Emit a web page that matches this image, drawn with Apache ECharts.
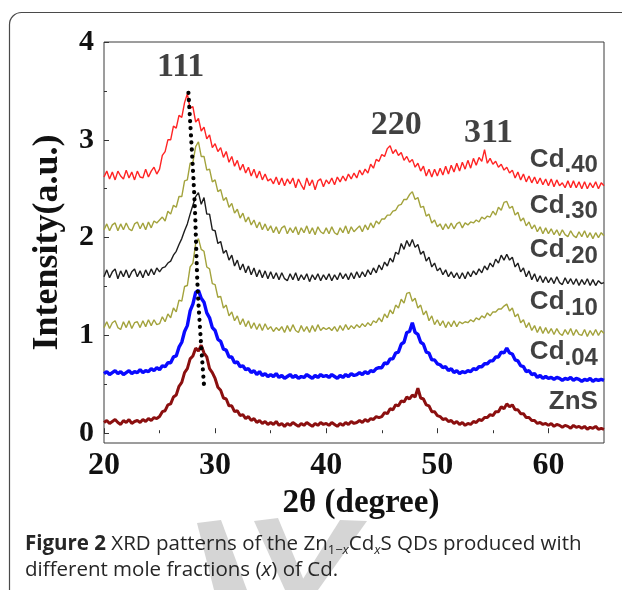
<!DOCTYPE html>
<html><head><meta charset="utf-8">
<script src="https://cdn.jsdelivr.net/npm/echarts/dist/echarts.min.js"></script>
<style>html,body{margin:0;padding:0;background:#fff}#c{width:622px;height:590px}</style>
</head><body><div id="c"></div>
<script>
// 2θ sampling: 20.00 .. 65.00 every 0.25 degree
const twoThetaStart = 20, twoThetaStep = 0.25;

const cd40 = [
2.62,2.68,2.60,2.67,2.59,2.68,2.63,2.60,2.69,2.61,2.67,2.59,2.68,2.62,2.61,2.70,2.62,2.68,2.72,2.65,
2.70,2.84,2.88,3.00,3.00,3.14,3.12,3.25,3.23,3.38,3.47,3.32,3.34,3.18,3.22,3.09,3.13,3.01,3.05,2.92,
2.96,2.88,2.92,2.82,2.88,2.77,2.83,2.73,2.79,2.69,2.75,2.66,2.72,2.63,2.70,2.61,2.68,2.59,2.65,2.58,
2.60,2.55,2.62,2.54,2.61,2.53,2.60,2.55,2.61,2.51,2.60,2.54,2.49,2.61,2.53,2.59,2.49,2.58,2.60,2.52,
2.59,2.55,2.61,2.54,2.62,2.57,2.63,2.58,2.65,2.60,2.66,2.61,2.69,2.64,2.70,2.66,2.75,2.71,2.80,2.78,
2.85,2.83,2.91,2.94,2.86,2.90,2.84,2.87,2.79,2.83,2.77,2.80,2.72,2.76,2.68,2.73,2.63,2.70,2.62,2.70,
2.63,2.71,2.64,2.73,2.65,2.74,2.67,2.76,2.68,2.77,2.70,2.79,2.71,2.81,2.74,2.82,2.78,2.90,2.76,2.81,
2.75,2.78,2.72,2.75,2.69,2.72,2.66,2.69,2.61,2.67,2.59,2.65,2.57,2.63,2.56,2.62,2.55,2.61,2.54,2.60,
2.53,2.60,2.52,2.59,2.53,2.56,2.51,2.58,2.51,2.58,2.51,2.57,2.50,2.57,2.50,2.56,2.51,2.57,2.50,2.56,
2.53];

const cd30 = [
2.08,2.14,2.07,2.13,2.15,2.07,2.14,2.08,2.15,2.09,2.07,2.14,2.16,2.09,2.15,2.08,2.16,2.10,2.17,2.15,
2.18,2.21,2.17,2.27,2.24,2.33,2.31,2.42,2.42,2.58,2.59,2.76,2.77,2.93,2.98,2.83,2.83,2.69,2.70,2.57,
2.59,2.47,2.49,2.38,2.41,2.31,2.35,2.25,2.29,2.20,2.25,2.16,2.21,2.13,2.18,2.10,2.16,2.08,2.14,2.07,
2.12,2.05,2.11,2.04,2.10,2.12,2.04,2.10,2.05,2.11,2.03,2.10,2.05,2.12,2.04,2.10,2.03,2.11,2.06,2.04,
2.10,2.04,2.11,2.05,2.03,2.10,2.05,2.12,2.04,2.11,2.06,2.09,2.12,2.06,2.13,2.08,2.15,2.10,2.17,2.14,
2.19,2.19,2.23,2.23,2.27,2.28,2.33,2.34,2.39,2.39,2.44,2.47,2.39,2.41,2.31,2.32,2.22,2.24,2.15,2.18,
2.11,2.14,2.08,2.14,2.09,2.15,2.09,2.14,2.16,2.10,2.15,2.13,2.16,2.15,2.18,2.16,2.21,2.19,2.22,2.21,
2.27,2.23,2.31,2.28,2.36,2.37,2.30,2.32,2.23,2.26,2.17,2.20,2.12,2.16,2.09,2.13,2.06,2.11,2.04,2.10,
2.04,2.09,2.03,2.08,2.02,2.08,2.03,2.01,2.07,2.02,2.00,2.06,2.01,2.07,2.00,2.05,1.99,2.05,2.00,2.05,
2.02];

const cd20 = [
1.60,1.67,1.59,1.65,1.68,1.58,1.66,1.60,1.67,1.59,1.65,1.68,1.60,1.66,1.59,1.67,1.61,1.68,1.62,1.69,
1.65,1.69,1.70,1.74,1.76,1.82,1.86,1.93,1.99,2.07,2.14,2.24,2.33,2.42,2.46,2.34,2.41,2.24,2.24,2.08,
2.07,1.94,1.96,1.84,1.87,1.77,1.82,1.71,1.77,1.67,1.73,1.64,1.71,1.62,1.69,1.60,1.67,1.59,1.66,1.58,
1.65,1.58,1.64,1.57,1.64,1.58,1.56,1.63,1.57,1.64,1.56,1.62,1.57,1.63,1.55,1.62,1.57,1.63,1.56,1.62,
1.57,1.63,1.56,1.62,1.57,1.64,1.58,1.63,1.57,1.64,1.58,1.65,1.59,1.65,1.60,1.67,1.62,1.69,1.64,1.72,
1.67,1.75,1.71,1.79,1.75,1.85,1.83,1.94,1.88,1.97,1.91,1.98,1.90,1.93,1.83,1.86,1.76,1.80,1.70,1.74,
1.66,1.69,1.62,1.67,1.60,1.65,1.59,1.64,1.58,1.64,1.58,1.65,1.60,1.66,1.62,1.68,1.64,1.71,1.67,1.74,
1.70,1.78,1.74,1.82,1.77,1.83,1.77,1.80,1.70,1.74,1.65,1.69,1.60,1.66,1.57,1.63,1.55,1.61,1.54,1.60,
1.54,1.59,1.53,1.60,1.54,1.52,1.59,1.53,1.58,1.52,1.58,1.51,1.57,1.52,1.58,1.51,1.57,1.51,1.56,1.53,
1.54];

const cd10 = [
1.08,1.14,1.07,1.13,1.15,1.08,1.06,1.14,1.08,1.15,1.07,1.13,1.14,1.08,1.15,1.09,1.16,1.10,1.16,1.11,
1.12,1.19,1.14,1.22,1.18,1.28,1.24,1.36,1.35,1.50,1.51,1.70,1.74,1.94,1.99,1.88,1.86,1.70,1.68,1.53,
1.52,1.39,1.40,1.28,1.31,1.20,1.24,1.15,1.20,1.11,1.17,1.09,1.15,1.07,1.13,1.06,1.12,1.05,1.12,1.06,
1.09,1.04,1.08,1.05,1.09,1.03,1.10,1.04,1.11,1.05,1.03,1.10,1.04,1.09,1.03,1.10,1.04,1.11,1.05,1.08,
1.06,1.08,1.05,1.09,1.04,1.10,1.05,1.11,1.06,1.10,1.07,1.11,1.08,1.12,1.09,1.13,1.10,1.15,1.13,1.18,
1.14,1.22,1.18,1.26,1.22,1.31,1.28,1.37,1.33,1.43,1.44,1.35,1.38,1.28,1.31,1.21,1.25,1.15,1.20,1.11,
1.16,1.10,1.15,1.08,1.14,1.09,1.15,1.09,1.14,1.12,1.14,1.13,1.16,1.14,1.18,1.16,1.20,1.18,1.23,1.20,
1.24,1.24,1.27,1.27,1.30,1.32,1.25,1.28,1.19,1.22,1.13,1.16,1.08,1.13,1.05,1.10,1.03,1.09,1.02,1.08,
1.02,1.07,1.01,1.07,1.02,1.00,1.06,1.01,1.07,1.00,1.06,1.01,1.00,1.06,0.99,1.05,1.00,1.06,1.00,1.05,
1.02];

const cd04 = [
0.61,0.63,0.60,0.62,0.64,0.61,0.63,0.60,0.62,0.64,0.61,0.63,0.62,0.65,0.62,0.64,0.63,0.66,0.64,0.67,
0.65,0.69,0.68,0.72,0.72,0.78,0.79,0.88,0.93,1.04,1.10,1.25,1.32,1.44,1.46,1.38,1.34,1.23,1.18,1.08,
1.05,0.96,0.94,0.86,0.85,0.78,0.78,0.72,0.73,0.68,0.69,0.65,0.66,0.62,0.64,0.60,0.63,0.59,0.61,0.58,
0.60,0.58,0.61,0.57,0.59,0.56,0.58,0.60,0.57,0.59,0.56,0.58,0.57,0.60,0.58,0.56,0.59,0.57,0.60,0.58,
0.59,0.57,0.60,0.58,0.56,0.59,0.57,0.60,0.58,0.61,0.59,0.60,0.62,0.60,0.63,0.61,0.64,0.63,0.66,0.67,
0.67,0.72,0.71,0.76,0.76,0.82,0.83,0.91,0.93,1.03,1.04,1.13,1.03,1.01,0.93,0.91,0.83,0.82,0.75,0.75,
0.71,0.70,0.67,0.68,0.64,0.66,0.62,0.64,0.61,0.63,0.62,0.64,0.63,0.66,0.65,0.68,0.68,0.71,0.71,0.74,
0.74,0.78,0.78,0.83,0.82,0.87,0.82,0.81,0.75,0.74,0.69,0.68,0.63,0.64,0.60,0.61,0.57,0.59,0.56,0.58,
0.56,0.57,0.55,0.57,0.56,0.54,0.56,0.55,0.57,0.54,0.56,0.55,0.53,0.55,0.54,0.56,0.53,0.55,0.54,0.55,
0.54];

const znS = [
0.11,0.13,0.10,0.12,0.14,0.11,0.09,0.13,0.11,0.14,0.10,0.12,0.13,0.11,0.14,0.12,0.15,0.13,0.16,0.15,
0.17,0.22,0.23,0.29,0.30,0.37,0.39,0.48,0.52,0.62,0.66,0.76,0.79,0.87,0.84,0.90,0.82,0.78,0.66,0.62,
0.56,0.47,0.44,0.36,0.35,0.28,0.28,0.22,0.23,0.18,0.19,0.15,0.17,0.13,0.15,0.11,0.13,0.10,0.12,0.09,
0.11,0.09,0.12,0.08,0.10,0.07,0.10,0.08,0.11,0.09,0.07,0.10,0.08,0.11,0.09,0.07,0.10,0.08,0.11,0.09,
0.10,0.08,0.11,0.09,0.07,0.10,0.08,0.11,0.09,0.12,0.10,0.11,0.13,0.11,0.14,0.12,0.15,0.14,0.17,0.16,
0.17,0.21,0.20,0.25,0.24,0.29,0.28,0.33,0.32,0.37,0.35,0.39,0.37,0.46,0.36,0.35,0.29,0.28,0.22,0.22,
0.18,0.17,0.14,0.15,0.12,0.13,0.10,0.12,0.09,0.11,0.08,0.10,0.09,0.12,0.11,0.14,0.13,0.16,0.16,0.19,
0.18,0.22,0.22,0.27,0.25,0.30,0.27,0.29,0.24,0.24,0.20,0.20,0.16,0.16,0.13,0.13,0.10,0.11,0.09,0.10,
0.08,0.10,0.07,0.09,0.08,0.06,0.08,0.07,0.05,0.08,0.06,0.07,0.05,0.07,0.04,0.06,0.05,0.07,0.04,0.05,
0.04];

// dotted guide through the (111) maxima
const dotX = [27.6, 28.15, 28.45, 29.0];
const dotY = [3.48, 2.38, 1.43, 0.49];

const xTickLabels = [20, 30, 40, 50, 60];
const xMinorTicks = [25, 35, 45, 55];
const yTickLabels = [0, 1, 2, 3, 4];
const yMinorTicks = [0.5, 1.5, 2.5, 3.5];

const peakNames = ['111', '220', '311'];
const peakNameX = [26.9, 46.3, 54.6];
const peakNameY = [3.74, 3.15, 3.07];

const sampleNames = ['Cd.40', 'Cd.30', 'Cd.20', 'Cd.10', 'Cd.04', 'ZnS'];
const sampleLabelX = 64.45;
const sampleLabelY = [2.80, 2.33, 1.87, 1.34, 0.83, 0.32];

const traceData = [znS, cd04, cd10, cd20, cd30, cd40];
const traceNames = ['ZnS', 'Cd.04', 'Cd.10', 'Cd.20', 'Cd.30', 'Cd.40'];
const traceColors = ['#8b0f0f', '#0a0aff', '#a3a33d', '#1e1e1e', '#a3a33d', '#ff2424'];
const traceWidths = [3, 3.4, 1.4, 1.4, 1.4, 1.4];

function pairs(arr) { return arr.map((v, i) => [twoThetaStart + i * twoThetaStep, v]); }

const serif = 'Liberation Serif';
const series = traceData.map((d, k) => ({
  type: 'line', name: traceNames[k], data: pairs(d), showSymbol: false, symbol: 'none',
  lineStyle: { color: traceColors[k], width: traceWidths[k] }, silent: true, z: 2 + k
}));
series.push({
  type: 'line', name: 'guide', data: dotX.map((x, i) => [x, dotY[i]]), smooth: 0.3,
  showSymbol: false, symbol: 'none', silent: true, z: 20,
  lineStyle: { color: '#000', width: 4.2, type: [0.1, 7], cap: 'round' }
});
series.push({
  type: 'scatter', name: 'peaks', silent: true, z: 21, symbolSize: 1,
  itemStyle: { color: 'rgba(0,0,0,0)' },
  data: peakNames.map((n, i) => ({ value: [peakNameX[i], peakNameY[i]], name: n })),
  label: { show: true, position: 'inside', formatter: p => p.name, fontFamily: serif,
           fontWeight: 'bold', fontSize: 34, color: '#111', align: 'center', verticalAlign: 'middle' }
});
series.push({
  type: 'scatter', name: 'samples', silent: true, z: 21, symbolSize: 1,
  itemStyle: { color: 'rgba(0,0,0,0)' },
  data: sampleNames.map((n, i) => ({ value: [sampleLabelX, sampleLabelY[i]], name: n })),
  label: { show: true, position: 'inside', align: 'right', verticalAlign: 'middle',
    formatter: p => p.name.indexOf('Cd') === 0 ? '{c|Cd}{s|' + p.name.slice(2) + '}' : '{c|' + p.name + '}',
    rich: {
      c: { fontFamily: 'Liberation Sans', fontWeight: 'bold', fontSize: 26, color: '#111' },
      s: { fontFamily: 'Liberation Sans', fontWeight: 'bold', fontSize: 24, color: '#111', padding: [13, 0, 0, 0] }
    }
  }
});

const axisFont = { fontFamily: serif, fontWeight: 'bold', color: '#111' };
const option = {
  animation: false,
  backgroundColor: '#fff',
  grid: { left: 104, right: 18, top: 42, bottom: 147, show: true, borderColor: '#3a3a3a', borderWidth: 1 },
  xAxis: [
    { type: 'value', min: 20, max: 65, position: 'bottom',
      axisLine: { show: false }, splitLine: { show: false },
      axisTick: { show: true, inside: true, length: 5, customValues: xTickLabels, lineStyle: { color: '#333' } },
      axisLabel: Object.assign({ customValues: xTickLabels, fontSize: 32, margin: 7 }, axisFont),
      name: '2θ (degree)', nameLocation: 'middle', nameGap: 41,
      nameTextStyle: Object.assign({ fontSize: 33, padding: [0, 0, 0, 14] }, axisFont) },
    { type: 'value', min: 20, max: 65, position: 'bottom',
      axisLine: { show: false }, splitLine: { show: false },
      axisTick: { show: true, inside: true, length: 3, customValues: xMinorTicks, lineStyle: { color: '#333' } },
      axisLabel: { show: false } }
  ],
  yAxis: [
    { type: 'value', min: -0.1, max: 4, position: 'left',
      axisLine: { show: false }, splitLine: { show: false },
      axisTick: { show: true, inside: true, length: 5, customValues: yTickLabels, lineStyle: { color: '#333' } },
      axisLabel: Object.assign({ customValues: yTickLabels, fontSize: 30, margin: 10 }, axisFont),
      name: 'Intensity(a.u.)', nameLocation: 'middle', nameRotate: 90, nameGap: 38,
      nameTextStyle: Object.assign({ fontSize: 36 }, axisFont) },
    { type: 'value', min: -0.1, max: 4, position: 'left',
      axisLine: { show: false }, splitLine: { show: false },
      axisTick: { show: true, inside: true, length: 3, customValues: yMinorTicks, lineStyle: { color: '#333' } },
      axisLabel: { show: false } }
  ],
  series: series,
  graphic: [
    { type: 'rect', silent: true, z: -10, shape: { x: 9.5, y: 12.5, width: 700, height: 700, r: 12 },
      style: { fill: 'none', stroke: '#4a4a4a', lineWidth: 1.2 } },
    { type: 'polygon', silent: true, z: -5, shape: { points: [[197,523],[221,520],[247,590],[214,590]] }, style: { fill: '#d5d5d5' } },
    { type: 'polygon', silent: true, z: -5, shape: { points: [[254,521],[278,518],[308,590],[285,590]] }, style: { fill: '#d5d5d5' } },
    { type: 'polygon', silent: true, z: -5, shape: { points: [[340,520],[367,521],[318,590],[296,590]] }, style: { fill: '#d5d5d5' } },
    { type: 'text', silent: true, z: 10, left: 25, top: 531,
      style: {
        text: '{b|Figure 2} XRD patterns of the Zn{s|1\u2212}{si|x}Cd{si|x}S QDs produced with\ndifferent mole fractions ({i|x}) of Cd.',
        fontFamily: 'Open Sans', fontSize: 20.5, fill: '#262626', lineHeight: 26,
        rich: {
          b: { fontFamily: 'Open Sans', fontSize: 20.5, fontWeight: 'bold', fill: '#262626' },
          s: { fontFamily: 'Open Sans', fontSize: 13, fill: '#262626', padding: [12, 0, 0, 0] },
          si: { fontFamily: 'Open Sans', fontSize: 13, fontStyle: 'italic', fill: '#262626', padding: [12, 0, 0, 0] },
          i: { fontFamily: 'Open Sans', fontSize: 20.5, fontStyle: 'italic', fill: '#262626' }
        }
      } }
  ]
};
const chart = echarts.init(document.getElementById('c'), null, { renderer: 'canvas' });
chart.setOption(option);
</script></body></html>
